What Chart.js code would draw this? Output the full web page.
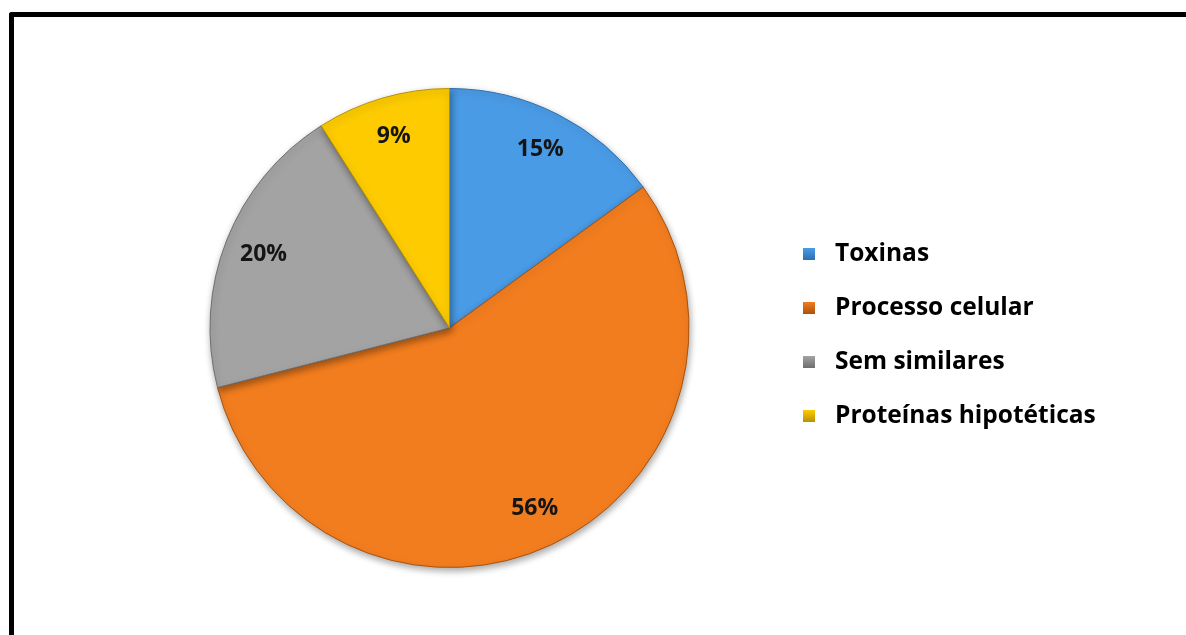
<!DOCTYPE html>
<html>
<head>
<meta charset="utf-8">
<script src="https://cdn.jsdelivr.net/npm/chart.js@4.4.1/dist/chart.umd.min.js"></script>
<style>
    body { margin: 0; background: #ffffff; overflow: hidden; }
    #frame {
        position: absolute; left: 9px; top: 12px; width: 1200px; height: 700px;
        border-left: 5px solid #000; border-top: 5px solid #000; border-top-left-radius: 3px;
    }
    #wrap { position: absolute; left: 14px; top: 17px; width: 1172px; height: 618px; }
</style>
</head>
<body>
<div id="frame"></div>
<div id="wrap"><canvas id="pieChart" width="1172" height="618"></canvas></div>
<script>
// chart data
const categories = ["Toxinas", "Processo celular", "Sem similares", "Proteínas hipotéticas"];
const percentValues = [15, 56, 20, 9];
const sliceColors = ["#4a9be6", "#f27d1f", "#a3a3a3", "#fdcb00"];
const edgeColors = ["#2f6fae", "#a9520d", "#6e6e6e", "#b89200"];

const FONT = "'Open Sans', sans-serif";

// percentage labels inside each slice
const sliceLabels = {
    id: "sliceLabels",
    afterDatasetsDraw(chart) {
        const ctx = chart.ctx;
        const meta = chart.getDatasetMeta(0);
        ctx.save();
        ctx.font = "bold 23px " + FONT;
        ctx.fillStyle = "#151515";
        ctx.textAlign = "center";
        ctx.textBaseline = "middle";
        meta.data.forEach(function(arc, i) {
            const p = arc.getProps(["x", "y", "startAngle", "endAngle", "outerRadius"], true);
            const mid = (p.startAngle + p.endAngle) / 2;
            const r = p.outerRadius * 0.835;
            ctx.fillText(percentValues[i] + "%", p.x + Math.cos(mid) * r, p.y + Math.sin(mid) * r);
        });
        ctx.restore();
    }
};

// soft shadow under the pie
const pieShadow = {
    id: "pieShadow",
    beforeDatasetsDraw(chart) {
        const ctx = chart.ctx;
        ctx.save();
        ctx.shadowColor = "rgba(0,0,0,0.35)";
        ctx.shadowBlur = 7;
        ctx.shadowOffsetX = 1;
        ctx.shadowOffsetY = 3;
    },
    afterDatasetsDraw(chart) {
        chart.ctx.restore();
    }
};

// legend on the right, drawn by hand so the spacing fits
const sideLegend = {
    id: "sideLegend",
    afterDraw(chart) {
        const ctx = chart.ctx;
        const x = 789, y0 = 237, step = 54;
        ctx.save();
        ctx.font = "bold 24.5px " + FONT;
        ctx.textBaseline = "middle";
        chart.data.labels.forEach(function(label, i) {
            const y = y0 + i * step;
            const g = ctx.createLinearGradient(0, y - 6, 0, y + 6);
            g.addColorStop(0, sliceColors[i]);
            g.addColorStop(1, edgeColors[i]);
            ctx.fillStyle = g;
            ctx.fillRect(x, y - 6, 12, 12);
            ctx.fillStyle = "#000";
            ctx.fillText(label, x + 32, y);
        });
        ctx.restore();
    }
};

new Chart("pieChart", {
    type: "pie",
    data: {
        labels: categories,
        datasets: [{
            data: percentValues,
            backgroundColor: sliceColors,
            borderColor: edgeColors,
            borderWidth: 1
        }]
    },
    options: {
        responsive: false,
        animation: false,
        layout: { padding: { left: 97, right: 398, top: 71, bottom: 67 } },
        plugins: {
            legend: { display: false },
            tooltip: { enabled: false }
        }
    },
    plugins: [pieShadow, sliceLabels, sideLegend]
});
</script>
</body>
</html>
